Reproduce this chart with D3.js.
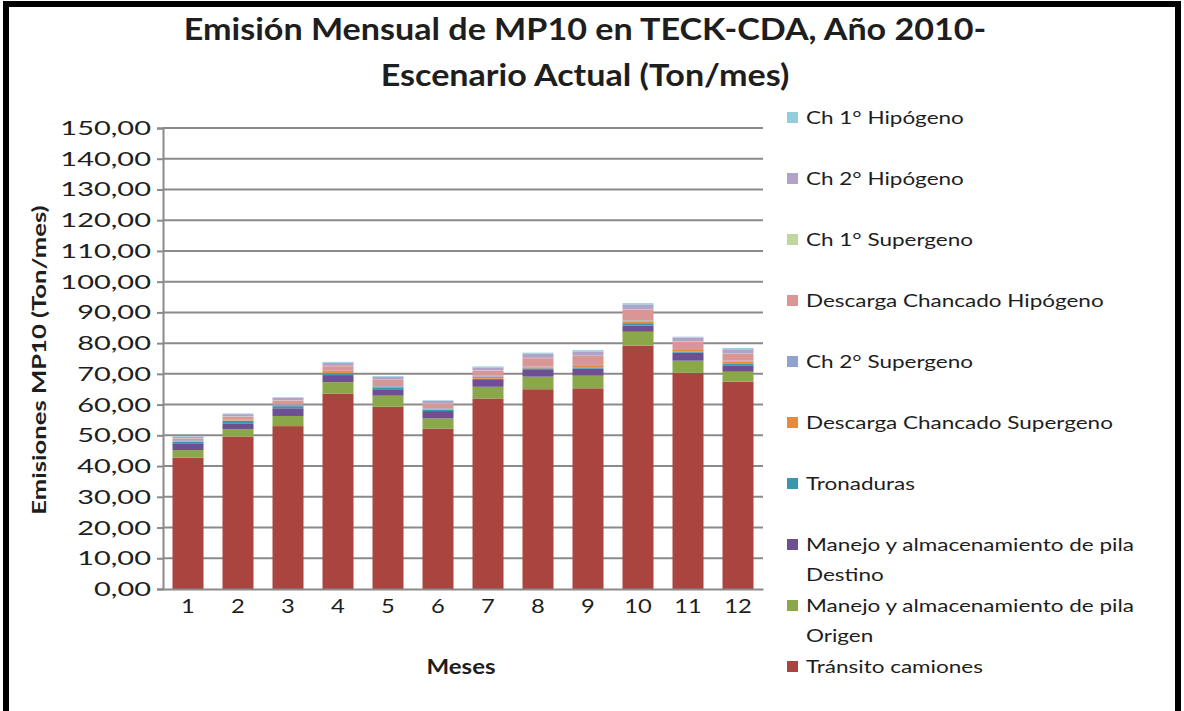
<!DOCTYPE html>
<html>
<head>
<meta charset="utf-8">
<script src="https://cdn.jsdelivr.net/npm/d3@7"></script>
<style>
  body { margin: 0; background: #fff; }
  text { font-family: Lato, "Open Sans", sans-serif; fill: #1e1e1e; }
</style>
</head>
<body>
<div id="chart"></div>
<script>
// months on the x axis
var months = ["1", "2", "3", "4", "5", "6", "7", "8", "9", "10", "11", "12"];
var yTickLabels = ["0,00", "10,00", "20,00", "30,00", "40,00", "50,00", "60,00", "70,00",
  "80,00", "90,00", "100,00", "110,00", "120,00", "130,00", "140,00", "150,00"];
var yTickValues = [0, 10, 20, 30, 40, 50, 60, 70, 80, 90, 100, 110, 120, 130, 140, 150];

// series, bottom of the stack first (Ton/mes)
var transito   = [42.7, 49.6, 53.0, 63.6, 59.3, 52.2, 62.0, 65.0, 65.3, 79.2, 70.4, 67.5];
var origen     = [2.5, 2.4, 3.3, 3.7, 3.6, 3.3, 3.8, 4.1, 4.1, 4.5, 3.9, 3.2];
var destino    = [2.0, 1.9, 2.5, 2.3, 2.1, 2.4, 2.2, 2.4, 2.3, 2.0, 2.6, 1.9];
var tronaduras = [0.7, 0.8, 0.7, 0.6, 0.4, 0.4, 0.4, 0.3, 0.4, 0.8, 0.3, 0.8];
var descSup    = [0.2, 0.2, 0.3, 0.4, 0.3, 0.2, 0.7, 0.3, 0.5, 0.5, 0.6, 0.6];
var ch2Sup     = [0.3, 0.3, 0.3, 0.4, 0.3, 0.3, 0.3, 0.3, 0.3, 0.4, 0.3, 0.3];
var descHip    = [0.6, 0.9, 1.2, 1.5, 2.0, 1.5, 1.6, 2.7, 2.9, 3.5, 2.4, 2.2];
var ch1Sup     = [0.1, 0.1, 0.1, 0.1, 0.1, 0.1, 0.1, 0.1, 0.1, 0.1, 0.1, 0.1];
var ch2Hip     = [0.4, 0.7, 0.8, 1.0, 1.0, 0.8, 1.0, 1.4, 1.4, 1.6, 1.2, 1.4];
var ch1Hip     = [0.2, 0.2, 0.2, 0.3, 0.2, 0.2, 0.3, 0.3, 0.4, 0.4, 0.3, 0.4];

var seriesNames = ["Tránsito camiones", "Manejo y almacenamiento de pila Origen",
  "Manejo y almacenamiento de pila Destino", "Tronaduras", "Descarga Chancado Supergeno",
  "Ch 2° Supergeno", "Descarga Chancado Hipógeno", "Ch 1° Supergeno", "Ch 2° Hipógeno", "Ch 1° Hipógeno"];
var seriesValues = [transito, origen, destino, tronaduras, descSup, ch2Sup, descHip, ch1Sup, ch2Hip, ch1Hip];
var seriesColors = ["#a9443f", "#8aa84a", "#6d4f92", "#3a97ae", "#e88a3c",
  "#90a3cf", "#d99694", "#c1d69c", "#b3a2c7", "#93cddd"];

var width = 1184, height = 711;
var plotLeft = 163, plotRight = 763, plotTop = 128, plotBottom = 589;

var svg = d3.select("#chart").append("svg")
  .attr("width", width)
  .attr("height", height);

// outer frame
svg.append("rect")
  .attr("x", 6).attr("y", 4)
  .attr("width", 1172).attr("height", 716)
  .attr("fill", "none")
  .attr("stroke", "#000")
  .attr("stroke-width", 6);

var x = d3.scaleBand()
  .domain(months)
  .range([plotLeft, plotRight])
  .paddingInner(0.38)
  .paddingOuter(0.19);

var y = d3.scaleLinear()
  .domain([0, 150])
  .range([plotBottom, plotTop]);

// build table for the stack
var table = months.map(function (m, i) {
  var row = { month: m };
  seriesNames.forEach(function (s, j) { row[s] = seriesValues[j][i]; });
  return row;
});
var stacked = d3.stack().keys(seriesNames)(table);

// gridlines
svg.append("g")
  .selectAll("line")
  .data(yTickValues.slice(1))
  .enter().append("line")
    .attr("x1", plotLeft).attr("x2", plotRight)
    .attr("y1", function (d) { return y(d); })
    .attr("y2", function (d) { return y(d); })
    .attr("stroke", "#8a8a8a")
    .attr("stroke-width", 2);

// y axis
var yAxis = svg.append("g")
  .attr("transform", "translate(" + plotLeft + ",0)")
  .call(d3.axisLeft(y).tickValues(yTickValues).tickSize(6).tickFormat(""));
yAxis.selectAll("line, path").attr("stroke", "#8a8a8a").attr("stroke-width", 2);

svg.append("g")
  .selectAll("text")
  .data(yTickValues)
  .enter().append("text")
    .attr("transform", function (d) { return "translate(151," + (y(d) + 7) + ") scale(1.45,1)"; })
    .attr("text-anchor", "end")
    .style("font-size", "20px")
    .text(function (d, i) { return yTickLabels[i]; });

// bars
svg.append("g")
  .selectAll("g")
  .data(stacked)
  .enter().append("g")
    .attr("fill", function (d, i) { return seriesColors[i]; })
  .selectAll("rect")
  .data(function (d) { return d; })
  .enter().append("rect")
    .attr("x", function (d) { return x(d.data.month); })
    .attr("width", x.bandwidth())
    .attr("y", function (d) { return y(d[1]); })
    .attr("height", function (d) { return y(d[0]) - y(d[1]); });

// x axis
var xAxis = svg.append("g")
  .attr("transform", "translate(0," + plotBottom + ")")
  .call(d3.axisBottom(x).tickSize(0).tickFormat(""));
xAxis.select("path").attr("stroke", "#8a8a8a").attr("stroke-width", 2);

svg.append("g")
  .selectAll("text")
  .data(months)
  .enter().append("text")
    .attr("transform", function (d) { return "translate(" + (x(d) + x.bandwidth() / 2) + ",613) scale(1.25,1)"; })
    .attr("text-anchor", "middle")
    .style("font-size", "19px")
    .text(function (d) { return d; });

// axis titles
svg.append("text")
  .attr("transform", "translate(461,674) scale(1.2,1)")
  .attr("text-anchor", "middle")
  .style("font-size", "20px")
  .style("font-weight", "bold")
  .text("Meses");

svg.append("text")
  .attr("transform", "translate(46,360) rotate(-90) scale(1.35,1)")
  .attr("text-anchor", "middle")
  .style("font-size", "19px")
  .style("font-weight", "bold")
  .text("Emisiones  MP10 (Ton/mes)");

// title
svg.append("text")
  .attr("transform", "translate(585,40) scale(1.1,1)")
  .attr("text-anchor", "middle")
  .style("font-size", "31px")
  .style("font-weight", "bold")
  .text("Emisión Mensual de MP10 en TECK-CDA, Año 2010-");
svg.append("text")
  .attr("transform", "translate(585,86) scale(1.1,1)")
  .attr("text-anchor", "middle")
  .style("font-size", "31px")
  .style("font-weight", "bold")
  .text("Escenario Actual (Ton/mes)");

// legend, top item = top of the stack
var legendOrder = d3.range(seriesNames.length).reverse();
var legendLines = {
  "Manejo y almacenamiento de pila Destino": ["Manejo y almacenamiento de pila", "Destino"],
  "Manejo y almacenamiento de pila Origen": ["Manejo y almacenamiento de pila", "Origen"]
};
var legend = svg.append("g")
  .selectAll("g")
  .data(legendOrder)
  .enter().append("g")
    .attr("transform", function (d, i) { return "translate(787," + (118 + i * 61) + ")"; });
legend.append("rect")
  .attr("x", 0).attr("y", -6)
  .attr("width", 11).attr("height", 11)
  .attr("fill", function (d) { return seriesColors[d]; });
legend.each(function (d) {
  var lines = legendLines[seriesNames[d]] || [seriesNames[d]];
  var g = d3.select(this);
  lines.forEach(function (ln, k) {
    g.append("text")
      .attr("transform", "translate(19," + (6 + k * 30) + ") scale(1.25,1)")
      .style("font-size", "18px")
      .text(ln);
  });
});
</script>
</body>
</html>
